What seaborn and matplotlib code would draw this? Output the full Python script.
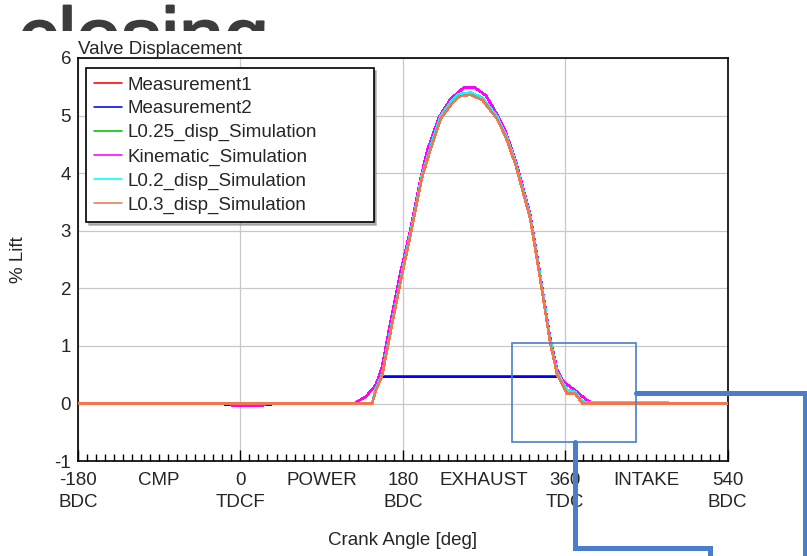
import numpy as np
import pandas as pd
import matplotlib
matplotlib.use('Agg')
import matplotlib.pyplot as plt
import matplotlib.patheffects as pe
from matplotlib.lines import Line2D
from matplotlib.patches import Rectangle
from matplotlib.transforms import Bbox, TransformedBbox
from matplotlib.ticker import FixedLocator, MultipleLocator, FuncFormatter
import seaborn as sns

# valve lift curves (crank angle in deg, lift in %)
kin_angle = [-180, -12, -10, 26, 28, 126, 139, 150, 157, 166, 177, 189, 200, 207, 220,
             233, 248, 259, 272, 284, 294, 305, 321, 332, 343, 351, 358, 373, 384, 391, 540]
kin_lift = [0, 0, -0.03, -0.03, 0, 0, 0.12, 0.32, 0.64, 1.39, 2.25, 3.06, 3.93, 4.39, 4.97,
            5.29, 5.49, 5.49, 5.35, 5.03, 4.71, 4.22, 3.29, 2.25, 1.16, 0.58, 0.38, 0.20, 0.06, 0, 0]

sim_angle = [-180, 146, 150, 157, 168, 179, 190, 201, 211, 222, 233, 242, 255, 268, 284,
             294, 305, 321, 332, 343, 351, 358, 362, 371, 379, 540]
lift_l025 = [0, 0, 0.23, 0.49, 1.39, 2.25, 3.06, 3.93, 4.45, 4.97, 5.20, 5.35, 5.38, 5.29, 4.97,
             4.65, 4.16, 3.24, 2.20, 1.10, 0.52, 0.32, 0.18, 0.18, 0, 0]
lift_l02 = [0, 0, 0.25, 0.51, 1.41, 2.27, 3.08, 3.95, 4.47, 4.99, 5.23, 5.37, 5.40, 5.31, 4.99,
            4.67, 4.18, 3.26, 2.22, 1.12, 0.54, 0.34, 0.24, 0.20, 0.03, 0]
lift_l03 = [0, 0, 0.22, 0.48, 1.37, 2.23, 3.04, 3.91, 4.43, 4.95, 5.18, 5.33, 5.36, 5.27, 4.95,
            4.63, 4.14, 3.22, 2.18, 1.08, 0.50, 0.30, 0.17, 0.17, 0, 0]

meas1_angle = [157, 354]
meas1_lift = [0.48, 0.48]
meas2_angle = [157, 354]
meas2_lift = [0.46, 0.46]
meas2_tdcf_angle = [-17, 34]
meas2_tdcf_lift = [-0.03, -0.03]

major_ticks = [-180, 0, 180, 360, 540]
major_labels = ['-180\nBDC', '0\nTDCF', '180\nBDC', '360\nTDC', '540\nBDC']
stroke_labels = {-90: 'CMP', 90: 'POWER', 270: 'EXHAUST', 450: 'INTAKE'}

sns.set_theme(style='white')
plt.rcParams['font.family'] = ['Liberation Sans', 'DejaVu Sans']
plt.rcParams['axes.unicode_minus'] = False

FS = 13.5
W, H = 807, 556
fig = plt.figure(figsize=(W / 100, H / 100), dpi=100)
ax = fig.add_axes([78 / W, 1 - 461.1 / H, (727.7 - 78) / W, 403.2 / H])

# java-style chart: thin un-smoothed lines
kw = dict(lw=1.15, ax=ax, zorder=3, antialiased=False)
sns.lineplot(x=meas1_angle, y=meas1_lift, color='#ff0000', label='Measurement1', **kw)
sns.lineplot(x=meas2_angle, y=meas2_lift, color='#0000ff', label='Measurement2', **kw)
sns.lineplot(x=meas2_tdcf_angle, y=meas2_tdcf_lift, color='#0000ff', **kw)
sns.lineplot(x=sim_angle, y=lift_l025, color='#00c000', label='L0.25_disp_Simulation', **kw)
sns.lineplot(x=kin_angle, y=kin_lift, color='#ff00ff', label='Kinematic_Simulation', **kw)
sns.lineplot(x=sim_angle, y=lift_l02, color='#00ffff', label='L0.2_disp_Simulation', **kw)
sns.lineplot(x=sim_angle, y=lift_l03, color='#f07850', label='L0.3_disp_Simulation', **kw)

ax.set_xlim(-180, 540)
ax.set_ylim(-1, 6)
ax.yaxis.set_major_locator(MultipleLocator(1))
ax.xaxis.set_major_locator(FixedLocator(major_ticks))
ax.set_xticklabels(major_labels, linespacing=1.35)
ax.xaxis.set_minor_locator(MultipleLocator(10))
ax.xaxis.set_minor_formatter(FuncFormatter(lambda v, p: stroke_labels.get(int(round(v)), '')))
ax.tick_params(axis='x', which='major', direction='in', length=8, width=1, color='black',
               labelsize=FS, pad=8, bottom=True)
ax.tick_params(axis='x', which='minor', direction='in', length=5, width=1, color='black',
               labelsize=FS, pad=8, bottom=True)
ax.tick_params(axis='y', length=0, labelsize=FS, pad=5)

ax.set_axisbelow(True)
ax.grid(True, which='major', color='#c8c8c8', lw=0.9, zorder=0)
for s in ax.spines.values():
    s.set_color('black')
    s.set_linewidth(1.2)

ax.set_title('Valve Displacement', loc='left', fontsize=FS, pad=2)
ax.set_xlabel('Crank Angle [deg]', fontsize=FS, labelpad=15)
ax.set_ylabel('% Lift', fontsize=FS, labelpad=20)

leg = ax.legend(loc='upper left', bbox_to_anchor=(0.012, 0.975, 0.443, 0.0), mode='expand',
                borderaxespad=0, fontsize=FS, frameon=True, fancybox=False,
                shadow={'color': '0.55', 'alpha': 0.6}, edgecolor='black', framealpha=1,
                handlelength=1.5, handletextpad=0.3, labelspacing=0.36, borderpad=0.45)
leg.get_frame().set_linewidth(1.2)
for h in leg.get_lines():
    h.set_antialiased(True)

# big grey slide text behind the chart, only its top peeks out
t = fig.text(18 / W, 1 - 64 / H, 'closing', fontsize=58, color='#3c3c3c',
             ha='left', va='baseline',
             path_effects=[pe.withStroke(linewidth=1.5, foreground='#3c3c3c')])
t.set_clip_box(TransformedBbox(Bbox([[0, 1 - 31 / H], [1, 1]]), fig.transFigure))
t.set_clip_on(True)

# blue callout overlay from the slide
blue = '#4a7ecb'
fig.patches.append(Rectangle((512 / W, 1 - 442 / H), 124 / W, 99 / H, transform=fig.transFigure,
                             fill=False, edgecolor=blue, lw=1.2))
for xs, ys in [([636, 805, 805], [393, 393, 560]), ([575, 575, 710, 710], [442, 548, 548, 560])]:
    fx = [x / W for x in xs]
    fy = [1 - y / H for y in ys]
    fig.lines.append(Line2D(fx, fy, transform=fig.transFigure, color=blue, lw=3.6,
                            solid_joinstyle='miter'))

fig.savefig('out.png', dpi=100)
